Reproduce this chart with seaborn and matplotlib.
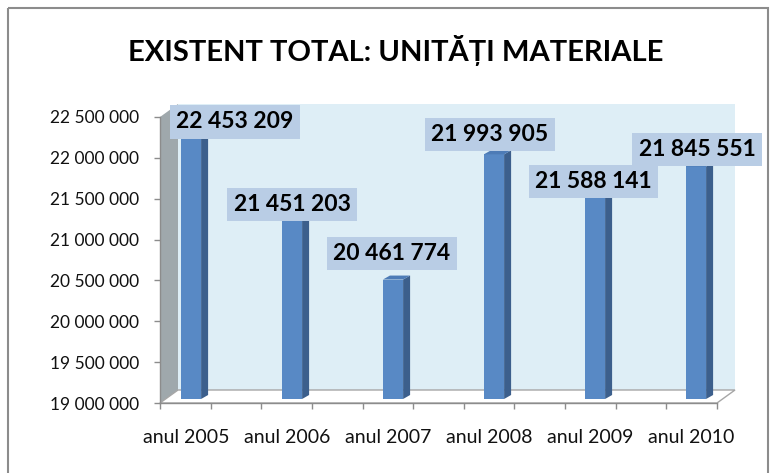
import matplotlib
matplotlib.use('Agg')
import matplotlib.pyplot as plt
import seaborn as sns
import numpy as np
from matplotlib.patches import Polygon, Rectangle
from matplotlib.transforms import ScaledTranslation, Affine2D

# ---- data ----
categories = ['anul 2005', 'anul 2006', 'anul 2007', 'anul 2008', 'anul 2009', 'anul 2010']
values = [22453209, 21451203, 20461774, 21993905, 21588141, 21845551]
value_labels = ['22 453 209', '21 451 203', '20 461 774', '21 993 905', '21 588 141', '21 845 551']
y_ticks = [19000000, 19500000, 20000000, 20500000, 21000000, 21500000, 22000000, 22500000]
y_tick_labels = ['19 000 000', '19 500 000', '20 000 000', '20 500 000',
                 '21 000 000', '21 500 000', '22 000 000', '22 500 000']
title = 'EXISTENT TOTAL: UNITĂȚI MATERIALE'

# label offsets (pixels) from each bar top -- styling
label_offsets = [(44, -1), (0, -2), (-1, 30), (-4, 24), (-2, 10), (1, 21)]

sns.set_theme(style='white')
plt.rcParams['font.family'] = ['Lato', 'DejaVu Sans']

W, H = 776, 473
fig = plt.figure(figsize=(W / 100, H / 100), dpi=100)
fig.patch.set_facecolor('white')
pix = Affine2D().scale(1 / W, -1 / H).translate(0, 1) + fig.transFigure

AX_L, AX_R, AX_T, AX_B = 160, 717, 117, 403
ax = fig.add_axes([AX_L / W, (H - AX_B) / H, (AX_R - AX_L) / W, (AX_B - AX_T) / H])
ax.set_facecolor('none')

DX3, DY3 = 18, 13  # 3D depth offset in pixels
grey = '#8c8c8c'
# back wall
ax.add_patch(Polygon([(AX_L + DX3, AX_T - DY3), (AX_R + DX3, AX_T - DY3),
                      (AX_R + DX3, AX_B - DY3), (AX_L + DX3, AX_B - DY3)],
                     closed=True, transform=pix, clip_on=False, fc='#deeef6', ec='none', zorder=0.1))
# left side wall
ax.add_patch(Polygon([(AX_L, AX_B), (AX_L + DX3, AX_B - DY3), (AX_L + DX3, AX_T - DY3), (AX_L, AX_T)],
                     closed=True, transform=pix, clip_on=False, fc='#9fa8ac', ec='none', zorder=0.2))
# floor
ax.add_patch(Polygon([(AX_L, AX_B), (AX_R, AX_B), (AX_R + DX3, AX_B - DY3), (AX_L + DX3, AX_B - DY3)],
                     closed=True, transform=pix, clip_on=False, fc='white', ec='#a6a6a6', lw=1.0, zorder=0.3))

# bars
sns.barplot(x=categories, y=values, color='#5889c5', saturation=1, width=0.2, ax=ax, zorder=2)

ylim = (y_ticks[0], y_ticks[-1])
xr0 = (AX_L - 191) / 101.0
xr1 = (AX_R - 191) / 101.0
ax.set_xlim(xr0, xr1)
ax.set_ylim(*ylim)

dxd = 7 * (xr1 - xr0) / (AX_R - AX_L)
dyd = 4 * (ylim[1] - ylim[0]) / (AX_B - AX_T)
shift = ax.transData + ScaledTranslation(0, 4 / 100, fig.dpi_scale_trans)

for p, v in zip(ax.patches[-len(values):], values):
    p.set_y(ylim[0])
    p.set_height(v - ylim[0])
    p.set_transform(shift)
    p.set_clip_on(False)
    p.set_edgecolor('none')
    x0 = p.get_x()
    x1 = x0 + p.get_width()
    ax.add_patch(Polygon([(x1, ylim[0]), (x1 + dxd, ylim[0] + dyd), (x1 + dxd, v + dyd), (x1, v)],
                         closed=True, transform=shift, clip_on=False, fc='#3c5f8c', ec='none', zorder=2))
    ax.add_patch(Polygon([(x0, v), (x1, v), (x1 + dxd, v + dyd), (x0 + dxd, v + dyd)],
                         closed=True, transform=shift, clip_on=False, fc='#4d7bb6', ec='none', zorder=2))

# data labels
for i, (v, lbl, off) in enumerate(zip(values, value_labels, label_offsets)):
    ax.annotate(lbl, xy=(i, v), xytext=off, textcoords='offset pixels', ha='center', va='center',
                fontsize=16.5, fontweight='bold', color='black', zorder=5, annotation_clip=False,
                bbox=dict(boxstyle='square,pad=0.27', fc='#b9cde5', ec='none'))

# axes styling
for s in ['top', 'right']:
    ax.spines[s].set_visible(False)
for s in ['left', 'bottom']:
    ax.spines[s].set_color(grey)
    ax.spines[s].set_linewidth(1.0)
    ax.spines[s].set_zorder(0.5)

ax.set_yticks(y_ticks)
ax.set_yticklabels(y_tick_labels)
ax.tick_params(axis='y', direction='out', length=4.3, width=1, color=grey, pad=11,
               labelsize=12.5, labelcolor='#111111', left=True)
ax.set_xticks(range(len(categories)))
ax.set_xticklabels(categories)
ax.set_xticks(np.linspace(xr0, xr1, 12), minor=True)
ax.tick_params(axis='x', which='major', length=0, pad=19, labelsize=14, labelcolor='#111111')
ax.tick_params(axis='x', which='minor', direction='out', length=4.3, width=1, color=grey, bottom=True)
for t in ax.get_xticklabels():
    t.set_transform(t.get_transform() + ScaledTranslation(-5 / 100, 0, fig.dpi_scale_trans))
ax.set_xlabel('')
ax.set_ylabel('')
ax.grid(False)

# title
fig.text(396 / W, 1 - 50 / H, title, ha='center', va='center', fontsize=21, fontweight='bold',
         color='black')

# outer frame
fig.add_artist(Rectangle((8, 8), 760, 475, transform=pix, fc='none', ec='#8c8c8c', lw=1.5,
                         clip_on=False))

fig.savefig('out.png', dpi=100)
